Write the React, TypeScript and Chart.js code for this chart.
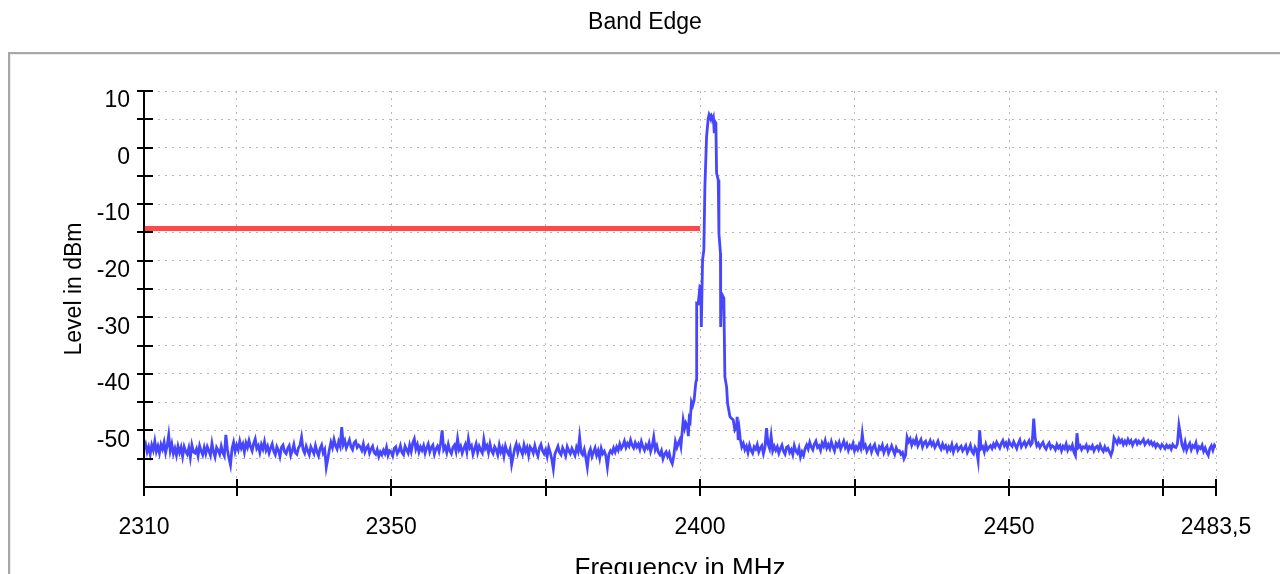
import React, { useEffect, useRef } from "react";
import { Chart, registerables } from "chart.js";

Chart.register(...registerables);

// ---- data ----
const NOISE_STEP = 0.25;
const NOISE_LOW_START = 2310;
const noiseLow = [
  -53.1,-52.4,-53.8,-52.9,-54.2,-52.6,-53.5,-51.9,-53.7,-52.8,-54.0,-52.5,-53.3,-52.1,-53.9,-52.7,-50.8,-53.6,-52.4,-54.1,
  -53.2,-54.4,-52.8,-53.9,-53.0,-54.6,-52.9,-53.7,-54.2,-53.1,-54.8,-52.6,-53.8,-54.0,-53.3,-54.5,-52.7,-53.6,-54.3,-53.0,
  -54.1,-52.9,-53.6,-54.4,-52.3,-53.8,-54.7,-53.0,-53.5,-54.2,-52.8,-53.9,-54.5,-50.8,-53.4,-54.9,-56.1,-53.2,-52.1,-53.7,
  -52.6,-53.4,-51.9,-53.1,-52.4,-53.8,-52.2,-53.0,-51.8,-52.9,-53.6,-52.3,-51.5,-53.2,-52.7,-53.9,-52.5,-53.3,-52.0,-53.5,
  -52.8,-54.0,-53.1,-52.4,-53.7,-54.3,-52.9,-53.5,-54.6,-53.0,-52.6,-53.8,-54.1,-53.2,-52.7,-54.4,-53.6,-52.5,-53.9,-54.2,
  -53.1,-52.6,-51.2,-53.4,-54.0,-52.8,-53.6,-54.3,-52.9,-53.5,-54.1,-52.7,-53.8,-54.5,-53.2,-52.6,-54.0,-53.4,-56.5,-55.0,
  -53.4,-52.1,-53.0,-51.6,-52.7,-53.3,-52.0,-52.8,-49.4,-52.5,-51.8,-53.1,-52.4,-51.7,-52.9,-53.4,-52.2,-51.9,-53.0,-52.6,
  -52.9,-53.5,-52.4,-53.8,-53.1,-52.7,-54.0,-53.3,-52.8,-53.9,-54.2,-53.4,-54.6,-53.8,-54.3,-53.5,-54.1,-53.0,-54.4,-53.6,
  -53.8,-54.5,-53.2,-52.9,-54.1,-53.6,-52.7,-53.9,-54.3,-52.8,-53.4,-54.0,-52.6,-53.7,-52.2,-51.5,-53.3,-52.5,-53.8,-52.9,
  -53.5,-52.7,-54.0,-53.1,-52.4,-53.8,-53.0,-52.6,-54.2,-53.3,-52.8,-53.7,-52.3,-50.0,-53.4,-52.9,-53.9,-52.5,-53.6,-54.1,
  -53.0,-52.6,-53.7,-51.5,-53.4,-52.8,-54.0,-53.2,-52.5,-53.8,-51.5,-53.1,-52.7,-54.2,-53.3,-52.4,-53.9,-52.8,-53.5,-54.0,
  -51.6,-53.2,-52.7,-53.9,-52.4,-53.6,-54.1,-52.9,-53.4,-54.3,-52.6,-53.8,-53.1,-54.5,-52.8,-53.7,-54.2,-53.3,-56.0,-54.6,
  -53.2,-52.4,-53.9,-52.8,-53.5,-54.2,-52.6,-53.7,-53.0,-54.4,-52.9,-53.3,-54.0,-52.7,-53.8,-54.5,-53.1,-52.5,-53.6,-54.1,
  -53.4,-54.6,-53.0,-53.9,-55.1,-56.8,-54.2,-53.5,-52.8,-53.9,-54.3,-53.1,-53.7,-54.5,-52.9,-53.6,-54.1,-53.2,-53.8,-54.4,
  -53.0,-53.7,-51.2,-53.9,-54.3,-53.4,-54.8,-56.5,-54.0,-53.3,-54.6,-53.8,-53.1,-54.4,-53.6,-54.9,-53.2,-54.1,-53.7,-54.5,
  -56.5,-54.2,-53.6,-54.0,-53.1,-53.8,-52.9,-53.5,-52.4,-53.2,-52.7,-51.9,-53.0,-52.3,-52.8,-51.7,-52.6,-53.1,-52.2,-52.9,
  -52.4,-53.3,-52.0,-52.9,-53.5,-52.6,-53.1,-52.2,-53.7,-52.8,-51.2,-53.4,-52.7,-53.9,-54.3,-53.6,-55.0,-54.2,-53.8,-54.6,
  -54.0,-55.3,-55.9,-54.5,-52.0,
];

const peakFreq = [
  2396.25, 2396.5, 2396.7, 2396.9, 2397.1, 2397.27, 2397.5, 2397.7, 2397.95, 2398.1,
  2398.24, 2398.4, 2398.6, 2398.8, 2399.04, 2399.3, 2399.43, 2399.45, 2399.7, 2399.97,
  2400.13, 2400.2, 2400.4, 2400.61, 2400.78, 2401.05, 2401.32, 2401.45, 2401.59, 2401.8,
  2402.02, 2402.15, 2402.29, 2402.4, 2402.56, 2402.67, 2402.94, 2403.05, 2403.3, 2403.33,
  2403.48, 2403.85, 2404.01, 2404.29, 2404.45, 2404.82, 2405.0, 2405.36, 2405.63, 2405.9,
  2406.0, 2406.17, 2406.35, 2406.5, 2406.75, 2407.0,
];
const peakLevel = [
  -53.0, -52.2, -51.7, -52.8, -50.3, -48.2, -49.6, -48.7, -49.3, -51.0,
  -47.9, -48.3, -45.0, -45.6, -44.6, -41.6, -41.0, -27.5, -27.6, -24.6,
  -24.8, -31.7, -19.9, -18.1, -6.9, 1.9, 5.2, 5.8, 5.4, 5.7,
  4.9, 5.3, 2.8, 4.6, 4.3, -4.5, -5.7, -15.2, -18.7, -31.7,
  -25.8, -26.6, -40.5, -42.3, -45.2, -47.5, -47.8, -48.1, -49.9, -49.4,
  -47.6, -51.7, -50.0, -51.5, -52.9, -52.3,
];

const NOISE_HIGH_START = 2407.25;
const noiseHigh = [
  -53.4,-52.8,-53.9,-52.6,-53.5,-54.0,-52.9,-53.3,-52.5,-53.8,-53.1,-52.7,-54.1,-53.0,-49.6,-52.4,-53.2,-51.0,-53.6,-52.8,
  -53.5,-52.9,-54.0,-53.2,-52.6,-53.7,-54.2,-53.0,-52.8,-53.9,-53.4,-54.3,-52.7,-53.6,-54.0,-53.1,-54.7,-53.8,-54.4,-53.2,
  -52.6,-53.3,-52.1,-52.9,-53.4,-52.4,-51.9,-53.0,-52.7,-53.5,-52.2,-52.8,-51.8,-53.1,-52.5,-53.2,-52.0,-52.9,-53.6,-52.3,
  -52.8,-52.1,-53.3,-52.6,-51.9,-53.0,-52.4,-53.5,-52.7,-53.1,-52.3,-53.6,-52.9,-53.4,-52.5,-53.2,-50.6,-53.0,-52.6,-53.7,
  -53.1,-52.7,-53.8,-53.0,-52.5,-53.6,-54.1,-52.9,-53.3,-52.6,-53.9,-53.2,-52.8,-54.0,-53.4,-52.7,-53.5,-54.2,-53.1,-53.7,
  -53.6,-54.2,-53.9,-55.0,-54.4,-51.2,-52.0,-51.5,-52.6,-51.8,-52.3,-51.4,-52.7,-52.1,-51.6,-52.9,-52.2,-51.9,-52.8,-52.4,
  -51.8,-52.6,-52.1,-53.0,-52.5,-51.9,-52.8,-53.3,-52.4,-53.1,-52.7,-53.6,-52.9,-53.4,-52.5,-53.8,-53.0,-52.6,-53.5,-53.1,
  -52.8,-53.6,-53.2,-52.7,-53.9,-53.3,-52.6,-53.7,-54.1,-53.0,-53.5,-55.3,-50.0,-53.2,-52.9,-53.8,-52.5,-53.4,-53.0,-52.7,
  -53.2,-52.4,-52.9,-52.1,-52.6,-53.1,-52.3,-51.8,-52.7,-52.2,-53.0,-51.9,-52.5,-52.8,-52.0,-52.6,-53.2,-52.3,-51.7,-52.9,
  -52.4,-52.0,-52.8,-52.3,-51.8,-52.6,-52.2,-47.9,-51.5,-52.7,-52.3,-53.0,-52.5,-52.1,-52.9,-53.3,-52.6,-52.2,-53.1,-52.7,
  -52.9,-53.4,-52.5,-53.1,-52.7,-53.6,-52.8,-53.2,-52.4,-53.5,-52.9,-53.3,-52.6,-53.8,-54.4,-50.5,-53.0,-52.7,-53.4,-52.9,
  -53.1,-52.6,-53.5,-52.9,-53.2,-52.7,-53.6,-53.0,-52.8,-53.4,-52.6,-53.3,-53.7,-52.9,-53.5,-53.2,-53.8,-54.4,-53.6,-51.3,
  -51.8,-52.3,-51.5,-52.1,-51.7,-52.5,-51.9,-52.4,-51.6,-52.2,-51.8,-52.6,-52.0,-51.7,-52.4,-51.9,-52.3,-52.0,-51.6,-52.5,
  -52.1,-51.8,-52.4,-52.0,-52.6,-52.2,-52.9,-52.4,-52.7,-53.1,-52.5,-52.8,-53.2,-52.6,-53.0,-52.7,-53.3,-52.5,-52.9,-53.0,
  -52.4,-49.1,-50.8,-52.6,-53.3,-52.1,-53.5,-52.8,-52.3,-53.4,-52.7,-53.0,-52.2,-53.6,-52.9,-53.2,-52.6,-53.7,-53.1,-53.9,
  -54.4,-53.2,-52.7,-53.5,-52.6,-53.0,
];

const limitFreq = [2310, 2400];
const limitLevel = [-14.3, -14.3];

const xTickValues = [2310, 2325, 2350, 2375, 2400, 2425, 2450, 2475, 2483.5];
const xTickLabels = ["2310", "", "2350", "", "2400", "", "2450", "", "2483,5"];
const yTickValues = [10, 5, 0, -5, -10, -15, -20, -25, -30, -35, -40, -45, -50, -55, -60];
const yTickLabels = ["10", "", "0", "", "-10", "", "-20", "", "-30", "", "-40", "", "-50", "", ""];

const FONT = "'Liberation Sans', Arial, Helvetica, sans-serif";

const crossAxes = {
  id: "crossAxes",
  afterDraw(chart: any) {
    const { ctx, chartArea: a, scales } = chart;
    const x = scales.x;
    const y = scales.y;
    ctx.save();
    ctx.strokeStyle = "#000";
    ctx.lineWidth = 2;
    ctx.beginPath();
    ctx.moveTo(a.left, a.top);
    ctx.lineTo(a.left, a.bottom);
    ctx.lineTo(a.right, a.bottom);
    for (const v of yTickValues) {
      if (v === -60) continue;
      const py = Math.round(y.getPixelForValue(v));
      ctx.moveTo(a.left - 7, py);
      ctx.lineTo(a.left + 9, py);
    }
    for (const v of xTickValues) {
      const px = Math.round(x.getPixelForValue(v));
      ctx.moveTo(px, v === 2310 ? a.bottom : a.bottom - 8);
      ctx.lineTo(px, a.bottom + 9);
    }
    ctx.stroke();
    ctx.restore();
  },
};

export default function App() {
  const ref = useRef<HTMLCanvasElement | null>(null);

  useEffect(() => {
    if (!ref.current) return;
    const trace: { x: number; y: number }[] = [];
    noiseLow.forEach((v, i) => trace.push({ x: NOISE_LOW_START + i * NOISE_STEP, y: v }));
    peakFreq.forEach((f, i) => trace.push({ x: f, y: peakLevel[i] }));
    noiseHigh.forEach((v, i) => trace.push({ x: NOISE_HIGH_START + i * NOISE_STEP, y: v }));
    const limit = limitFreq.map((f, i) => ({ x: f, y: limitLevel[i] }));

    const gridCommon = { color: "#b8b8b8", lineWidth: 1, drawTicks: false };
    const chart = new Chart(ref.current, {
      type: "line",
      data: {
        datasets: [
          {
            data: limit,
            borderColor: "#ff4848",
            borderWidth: 5,
            pointRadius: 0,
            tension: 0,
            borderCapStyle: "butt",
          },
          {
            data: trace,
            borderColor: "#4646ff",
            borderWidth: 2.8,
            pointRadius: 0,
            tension: 0,
          },
        ],
      },
      options: {
        animation: false,
        responsive: false,
        maintainAspectRatio: false,
        layout: { padding: { left: 74, right: 64, top: 0, bottom: 0 } },
        plugins: {
          legend: { display: false },
          tooltip: { enabled: false },
          title: {
            display: true,
            text: "Band Edge",
            color: "#000",
            font: { family: FONT, size: 23, weight: "normal" },
            padding: { top: 9, bottom: 54.4 },
          },
        },
        scales: {
          x: {
            type: "linear",
            min: 2310,
            max: 2483.5,
            afterBuildTicks: (s: any) => {
              s.ticks = xTickValues.map((v) => ({ value: v }));
            },
            afterFit: (s: any) => {
              s.height = 87;
            },
            ticks: {
              autoSkip: false,
              maxRotation: 0,
              color: "#000",
              padding: 27,
              font: { family: FONT, size: 23 },
              callback: (v: any) => {
                const i = xTickValues.indexOf(Number(v));
                return i >= 0 ? xTickLabels[i] : "";
              },
            },
            grid: gridCommon,
            border: { display: false, dash: [2, 5] },
            title: {
              display: true,
              text: "Frequency in MHz",
              color: "#000",
              font: { family: FONT, size: 26 },
              padding: { top: 0, bottom: -10 },
            },
          },
          y: {
            type: "linear",
            min: -60,
            max: 10,
            afterBuildTicks: (s: any) => {
              s.ticks = yTickValues.map((v) => ({ value: v }));
            },
            afterFit: (s: any) => {
              s.width = 70;
            },
            ticks: {
              autoSkip: false,
              color: "#000",
              padding: 14,
              labelOffset: 10,
              font: { family: FONT, size: 23 },
              callback: (v: any) => {
                const i = yTickValues.indexOf(Number(v));
                return i >= 0 ? yTickLabels[i] : "";
              },
            },
            grid: gridCommon,
            border: { display: false, dash: [2, 5] },
            title: {
              display: true,
              text: "Level in dBm",
              color: "#000",
              font: { family: FONT, size: 23 },
              padding: { top: -13, bottom: 0 },
            },
          },
        },
      },
      plugins: [crossAxes],
    } as any);
    return () => chart.destroy();
  }, []);

  return (
    <div
      style={{
        position: "absolute",
        left: 0,
        top: 0,
        width: 1280,
        height: 574,
        overflow: "hidden",
        background: "#fff",
      }}
    >
      <div
        style={{
          position: "absolute",
          left: 8,
          top: 52,
          width: 1400,
          height: 700,
          border: "2px solid #a8a8a8",
          boxShadow: "inset 1px 1px 0 #ececec",
        }}
      />
      <canvas
        ref={ref}
        width={1280}
        height={574}
        style={{ position: "absolute", left: 0, top: 0, width: 1280, height: 574 }}
      />
    </div>
  );
}
